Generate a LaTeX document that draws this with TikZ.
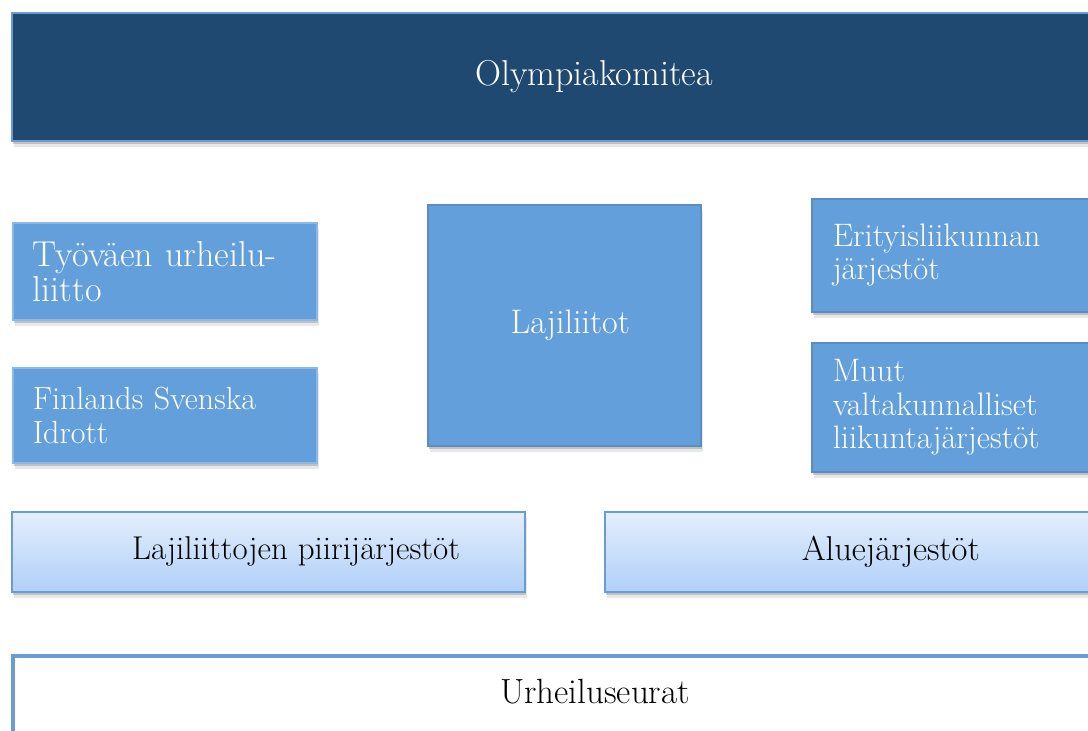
\documentclass[tikz,border=0pt]{standalone}
\usepackage{fontspec}
\usetikzlibrary{shadows}
\definecolor{navyfill}{HTML}{1F4970}
\definecolor{navyline}{HTML}{6A9BD1}
\definecolor{midfill}{HTML}{63A0DB}
\definecolor{lightline}{HTML}{8DB8E6}
\definecolor{darkline}{HTML}{5B8CC6}
\definecolor{gradtop}{HTML}{E4EFFC}
\definecolor{gradbot}{HTML}{B0CFF8}
\definecolor{gradline}{HTML}{6A9BD1}
\tikzset{
  shade/.style={drop shadow={shadow xshift=1pt, shadow yshift=-3pt, opacity=0.25, fill=black!70},
                drop shadow={shadow xshift=2pt, shadow yshift=-6pt, opacity=0.13, fill=black!70}},
  topbox/.style={shade, fill=navyfill, draw=navyline, line width=2pt, anchor=north west, inner sep=0pt, text=white},
  bluebox/.style={shade, fill=midfill, line width=1.5pt, anchor=north west, text=white, inner ysep=0pt, inner xsep=20pt, align=left},
  gradbox/.style={shade, top color=gradtop, bottom color=gradbot, draw=gradline, line width=1.5pt, anchor=north west, inner sep=0pt},
  clubbox/.style={fill=white, draw=navyline, line width=4pt, anchor=north west, inner sep=0pt},
  bigtext/.style={font=\fontsize{36}{38}\selectfont},
  midtext/.style={font=\fontsize{36}{35}\selectfont},
  smalltext/.style={font=\fontsize{32.5}{33.5}\selectfont},
}
\begin{document}
\begin{tikzpicture}[x=1pt,y=-1pt]
\useasboundingbox (0,0) rectangle (1088,731);
\clip (0,0) rectangle (1088,731);
\node[topbox, bigtext, minimum width=1164pt, minimum height=128pt] (olymp) at (11,12) {Olympiakomitea};
\node[bluebox, draw=lightline, midtext, text width=264pt, minimum height=97pt] (tyo) at (12,222) {Työväen urheilu-\\liitto};
\node[bluebox, draw=lightline, font=\fontsize{32}{34}\selectfont, text width=264pt, minimum height=95pt] (fsi) at (12,367) {Finlands Svenska\\Idrott};
\node[bluebox, draw=darkline, font=\fontsize{34}{34}\selectfont, text width=233pt, align=center, minimum height=241pt] (laji) at (427,204) {\hspace*{12pt}Lajiliitot};
\node[bluebox, draw=darkline, smalltext, text width=260pt, minimum height=113pt, inner xsep=21pt] (erit) at (811,198) {Erityisliikunnan\\järjestöt};
\node[bluebox, draw=darkline, smalltext, text width=260pt, minimum height=129pt, inner xsep=21pt] (muut) at (811,342) {Muut\\valtakunnalliset\\liikuntajärjestöt};
\node[gradbox, minimum width=513pt, minimum height=80pt] (lpj) at (11,511) {};
\node[font=\fontsize{33}{34}\selectfont] (lpjt) at (296,551) {Lajiliittojen piirijärjestöt};
\node[gradbox, font=\fontsize{34.5}{34}\selectfont, minimum width=572pt, minimum height=80pt] (alue) at (604,511) {Aluejärjestöt};
\node[clubbox, minimum width=1168pt, minimum height=120pt] (urh) at (11,654) {};
\node[font=\fontsize{35}{36}\selectfont] (urht) at (595,692) {Urheiluseurat};
\end{tikzpicture}
\end{document}
